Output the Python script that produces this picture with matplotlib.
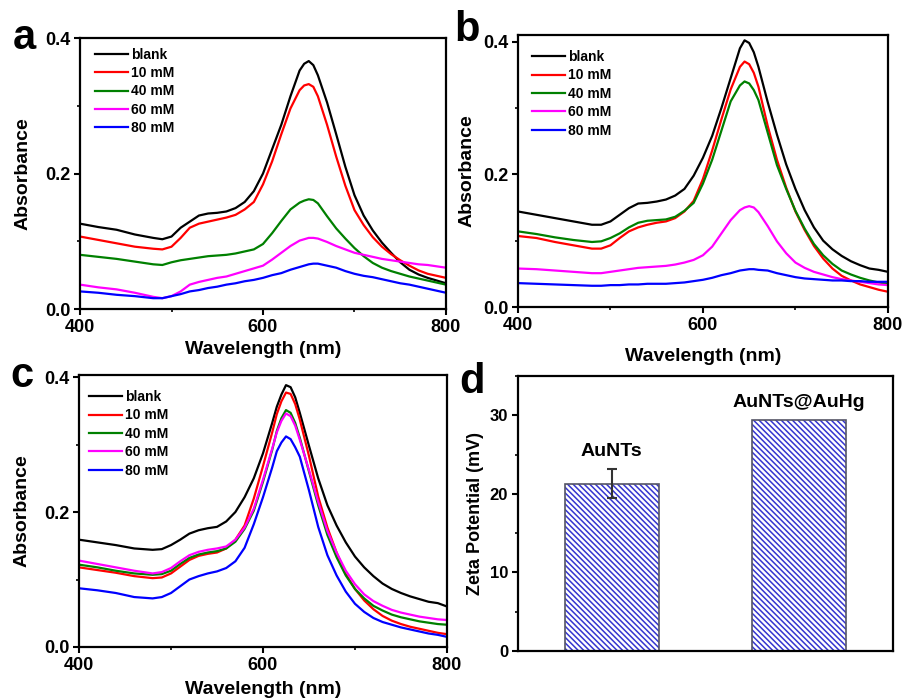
import numpy as np
import matplotlib
matplotlib.use("Agg")
import matplotlib.pyplot as plt
from matplotlib.ticker import MultipleLocator, FormatStrFormatter

plt.rcParams['font.family'] = ['Liberation Sans', 'DejaVu Sans']
plt.rcParams['font.weight'] = 'bold'
plt.rcParams['axes.labelweight'] = 'bold'
plt.rcParams['hatch.linewidth'] = 1.1

labels = ["blank", "10 mM", "40 mM", "60 mM", "80 mM"]
colors = ["black", "#ff0000", "#008000", "#ff00ff", "#0000ff"]

# panel a
wl_a = [400, 420, 440, 460, 480, 490, 500, 510, 520, 530, 540, 550, 560, 570, 580, 590, 600,
        610, 620, 630, 640, 645, 650, 655, 660, 670, 680, 690, 700, 710, 720, 730, 740, 750,
        760, 770, 780, 790, 800]
a_blank = [.126, .121, .117, .110, .105, .103, .107, .120, .129, .138, .141, .142, .144, .149, .158, .174, .200,
           .236, .272, .314, .352, .362, .366, .360, .345, .305, .258, .210, .168, .138, .116, .098, .083, .069,
           .058, .051, .046, .042, .038]
a_10 = [.107, .102, .097, .092, .089, .088, .092, .105, .120, .126, .129, .132, .135, .139, .147, .158, .184,
        .218, .258, .296, .323, .330, .332, .328, .314, .272, .225, .182, .146, .124, .106, .092, .081, .072,
        .064, .057, .052, .049, .046]
a_40 = [.080, .077, .074, .070, .066, .065, .069, .072, .074, .076, .078, .079, .080, .082, .085, .088, .096,
        .112, .130, .147, .157, .160, .162, .161, .156, .137, .119, .104, .090, .078, .068, .061, .056, .052,
        .048, .045, .042, .039, .036]
a_60 = [.036, .032, .029, .024, .018, .016, .019, .026, .036, .040, .043, .046, .048, .052, .056, .060, .064,
        .073, .083, .093, .101, .103, .105, .105, .104, .099, .093, .088, .083, .080, .077, .074, .072, .070,
        .068, .066, .065, .063, .061]
a_80 = [.026, .024, .021, .019, .016, .016, .019, .022, .026, .028, .031, .033, .036, .038, .041, .043, .046,
        .050, .053, .058, .062, .064, .066, .067, .067, .064, .061, .056, .052, .049, .047, .044, .041, .038,
        .036, .033, .030, .027, .024]

# panel b
wl_b = wl_a
b_blank = [.144, .139, .134, .129, .124, .124, .129, .139, .149, .156, .157, .159, .162, .168, .178, .198, .225,
           .258, .300, .345, .390, .402, .398, .384, .362, .309, .260, .215, .178, .146, .120, .100, .087, .077,
           .069, .063, .058, .056, .053]
b_10 = [.107, .104, .098, .093, .088, .088, .093, .104, .114, .120, .124, .127, .129, .134, .144, .160, .193,
        .236, .283, .328, .362, .370, .366, .353, .332, .273, .222, .180, .144, .116, .092, .073, .058, .047,
        .040, .034, .030, .026, .023]
b_40 = [.114, .110, .105, .101, .098, .099, .104, .111, .120, .127, .130, .131, .132, .136, .145, .157, .186,
        .222, .266, .310, .334, .340, .337, .327, .312, .263, .214, .178, .145, .118, .095, .078, .065, .055,
        .049, .044, .040, .037, .035]
b_60 = [.058, .057, .055, .053, .051, .051, .053, .055, .057, .059, .060, .061, .062, .064, .067, .071, .078,
        .091, .111, .131, .146, .150, .152, .150, .143, .122, .099, .081, .067, .059, .053, .049, .045, .042,
        .040, .038, .036, .034, .033]
b_80 = [.036, .035, .034, .033, .032, .032, .033, .033, .034, .034, .035, .035, .035, .036, .037, .039, .041,
        .044, .048, .051, .055, .056, .057, .057, .056, .055, .051, .048, .045, .043, .042, .041, .040, .040,
        .039, .039, .038, .038, .038]

# panel c
wl_c = [400, 420, 440, 460, 480, 490, 500, 510, 520, 530, 540, 550, 560, 570, 580, 590, 600,
        610, 615, 620, 625, 630, 635, 640, 650, 660, 670, 680, 690, 700, 710, 720, 730, 740,
        750, 760, 770, 780, 790, 800]
c_blank = [.159, .155, .151, .146, .144, .145, .151, .159, .168, .173, .176, .178, .186, .200, .222, .250, .287,
           .332, .356, .374, .388, .385, .370, .347, .298, .250, .210, .180, .155, .134, .118, .105, .094, .086,
           .080, .075, .071, .067, .065, .060]
c_10 = [.118, .114, .110, .105, .102, .103, .109, .119, .129, .135, .138, .140, .146, .159, .180, .220, .268,
        .318, .345, .364, .377, .375, .360, .337, .283, .223, .177, .140, .108, .086, .069, .056, .046, .039,
        .034, .030, .027, .024, .021, .019]
c_40 = [.122, .118, .113, .109, .107, .108, .113, .123, .132, .137, .140, .142, .146, .156, .175, .202, .245,
        .292, .320, .339, .351, .347, .332, .310, .260, .210, .166, .133, .106, .086, .072, .061, .054, .048,
        .044, .041, .038, .036, .034, .033]
c_60 = [.128, .123, .118, .113, .109, .111, .117, .127, .136, .141, .144, .146, .149, .159, .177, .205, .248,
        .294, .318, .335, .346, .342, .328, .307, .262, .215, .172, .140, .113, .093, .078, .068, .061, .055,
        .051, .048, .045, .043, .041, .040]
c_80 = [.087, .084, .080, .074, .072, .074, .080, .090, .100, .105, .109, .112, .117, .127, .147, .182, .222,
        .266, .290, .303, .312, .308, .296, .282, .232, .178, .136, .106, .082, .064, .052, .043, .037, .033,
        .029, .026, .023, .020, .018, .015]

# panel d
samples = ["AuNTs", "AuNTs@AuHg"]
zeta = [21.3, 29.4]
zeta_err = [1.8, 0]

fig = plt.figure(figsize=(9.03, 6.99), dpi=100)
ax_a = fig.add_axes([0.0886, 0.5579, 0.4053, 0.3877])
ax_b = fig.add_axes([0.5736, 0.5608, 0.4097, 0.3891])
ax_c = fig.add_axes([0.0875, 0.0744, 0.4075, 0.3891])
ax_d = fig.add_axes([0.5736, 0.0687, 0.4153, 0.3934])


def style(ax, size=13):
    for s in ax.spines.values():
        s.set_linewidth(1.6)
    ax.tick_params(which='major', direction='out', length=4, width=1.5, labelsize=size, pad=3)
    ax.tick_params(which='minor', direction='out', length=2.5, width=1.2)
    for t in ax.get_xticklabels() + ax.get_yticklabels():
        t.set_fontweight('bold')


panels = [
    (ax_a, wl_a, [a_blank, a_10, a_40, a_60, a_80], 0.4, 4, 10, (0.041, 0.965)),
    (ax_b, wl_b, [b_blank, b_10, b_40, b_60, b_80], 0.41, 10, 5, (0.038, 0.945)),
    (ax_c, wl_c, [c_blank, c_10, c_40, c_60, c_80], 0.403, 5, 10, (0.027, 0.945)),
]
for ax, wl, curves, ymax, xlp, ylp, anchor in panels:
    for y, lab, col in zip(curves, labels, colors):
        ax.plot(wl, y, color=col, lw=1.6, label=lab)
    ax.set_xlim(400, 800)
    ax.set_ylim(0, ymax)
    ax.xaxis.set_major_locator(MultipleLocator(200))
    ax.xaxis.set_minor_locator(MultipleLocator(100))
    ax.yaxis.set_major_locator(MultipleLocator(0.2))
    ax.yaxis.set_minor_locator(MultipleLocator(0.1))
    ax.yaxis.set_major_formatter(FormatStrFormatter('%.1f'))
    ax.set_xlabel("Wavelength (nm)", fontsize=14, labelpad=xlp)
    ax.set_ylabel("Absorbance", fontsize=14, labelpad=ylp)
    style(ax)
    ax.legend(loc='upper left', bbox_to_anchor=anchor, frameon=False, borderpad=0,
              borderaxespad=0, handlelength=2.4, handletextpad=0.2, labelspacing=0.32,
              prop={'weight': 'bold', 'size': 10})

xpos = np.arange(1, len(samples) + 1)
ax_d.bar(xpos, zeta, width=0.5, color='white', edgecolor='#3535d0', hatch='\\' * 6, lw=0)
ax_d.bar(xpos, zeta, width=0.5, color='none', edgecolor='#555566', lw=1.2)
ax_d.errorbar(xpos[:1], zeta[:1], yerr=zeta_err[:1], fmt='none', ecolor='#333333',
              elinewidth=1.5, capsize=3.5, capthick=1.5)
ax_d.text(xpos[0], zeta[0] + 3.0, samples[0], ha='center', va='bottom', fontsize=14, fontweight='bold')
ax_d.text(xpos[1], zeta[1] + 1.2, samples[1], ha='center', va='bottom', fontsize=14, fontweight='bold')
ax_d.set_xlim(0.5, 2.5)
ax_d.set_ylim(0, 35)
ax_d.set_xticks([])
ax_d.yaxis.set_major_locator(MultipleLocator(10))
ax_d.yaxis.set_minor_locator(MultipleLocator(5))
ax_d.set_ylabel("Zeta Potential (mV)", fontsize=13, labelpad=4)
style(ax_d, 12)

for lab, x, y in [("a", 0.014, 0.930), ("b", 0.503, 0.942), ("c", 0.012, 0.447), ("d", 0.509, 0.438)]:
    fig.text(x, y, lab, fontsize=30, fontweight='bold')

fig.savefig("out.png", dpi=100)
